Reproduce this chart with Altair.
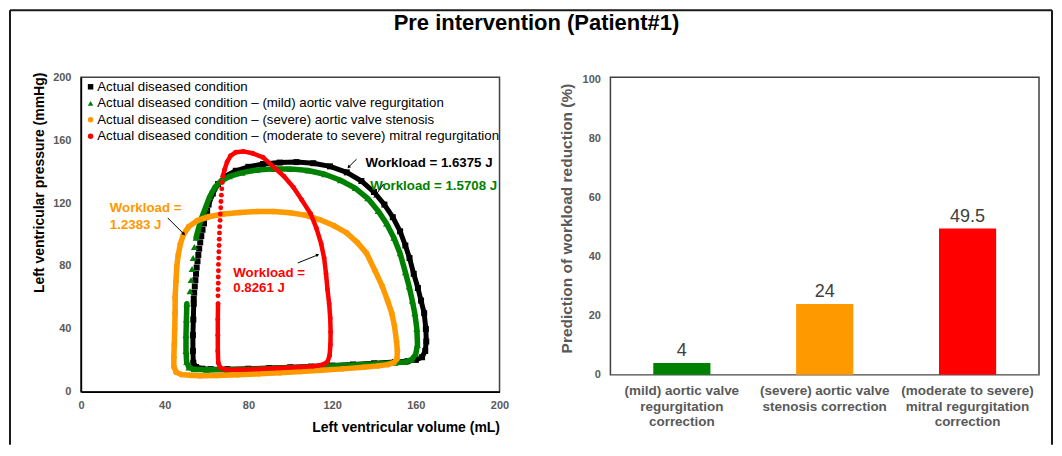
import math
import altair as alt
import pandas as pd

FONT = "Liberation Sans"
TITLE = "Pre intervention (Patient#1)"

# ---------------- Left panel: PV loops ----------------
series_names = [
    "Actual diseased condition",
    "Actual diseased condition \u2013 (mild) aortic valve regurgitation",
    "Actual diseased condition \u2013 (severe) aortic valve stenosis",
    "Actual diseased condition \u2013 (moderate to severe) mitral regurgitation",
]
series_colors = ["#000000", "#008000", "#FF9900", "#FF0000"]
series_shapes = ["square", "triangle-up", "circle", "circle"]

# Actual diseased condition (black)
black_band_v = [53.9, 53.7, 53.5, 53.5, 53.7, 55.0, 58.0, 62.0, 70.0, 80.0, 90.0, 100.0, 110.0, 120.0, 130.0,
                140.0, 150.0, 156.0, 160.0, 163.0, 164.5, 165.0, 164.8, 164.0, 162.5, 161.0, 159.0, 157.0, 155.0,
                152.5, 149.0, 145.0, 140.0, 134.0, 127.0, 119.0, 111.0, 103.0, 95.0, 87.0, 80.0, 74.0, 69.0,
                65.5, 63.0, 61.0]
black_band_p = [56.0, 46.0, 36.0, 26.0, 18.5, 15.8, 14.7, 14.4, 14.4, 14.7, 15.1, 15.6, 16.1, 16.7, 17.4,
                18.1, 18.9, 19.5, 20.3, 22.0, 26.0, 32.0, 40.0, 50.0, 58.0, 66.0, 75.0, 85.0, 93.0,
                102.0, 111.0, 119.0, 127.0, 134.0, 139.5, 143.3, 145.3, 146.0, 145.7, 144.8, 143.0, 140.5, 137.0,
                132.0, 126.0, 119.0]
black_sparse_v = [60.3, 59.5, 58.8, 58.1, 57.5, 57.0, 56.5, 56.1, 55.7, 55.3, 55.0, 54.7, 54.4, 54.1, 53.9]
black_sparse_p = [115, 111, 107, 103, 99, 95, 91, 87, 83, 79, 75, 71, 67, 63, 59]

# (mild) aortic valve regurgitation (green)
green_band_v = [50.6, 50.4, 50.2, 50.2, 50.5, 51.6, 54.0, 60.0, 70.0, 80.0, 90.0, 100.0, 110.0, 120.0, 130.0,
                140.0, 150.0, 155.0, 158.0, 160.0, 160.8, 160.5, 159.5, 158.3, 156.8, 155.0, 152.5, 149.5, 146.0,
                142.0, 137.0, 131.0, 124.0, 116.5, 108.5, 100.0, 92.0, 84.0, 77.0, 71.0, 67.0, 64.0, 61.5,
                59.5, 57.5, 56.0, 55.0]
green_band_p = [56.0, 46.0, 36.0, 26.0, 19.0, 15.5, 14.3, 14.0, 14.1, 14.4, 14.8, 15.3, 15.8, 16.4, 17.0,
                17.7, 18.5, 19.0, 20.5, 24.0, 30.0, 40.0, 50.0, 58.0, 67.0, 76.0, 88.0, 98.0, 107.0,
                115.0, 123.0, 129.5, 134.5, 138.3, 140.7, 141.7, 141.7, 141.0, 139.3, 137.0, 134.0, 130.0, 124.0,
                117.0, 110.0, 103.0, 98.0]
green_sparse_v = [54.2, 53.6, 53.1, 52.6, 52.1]
green_sparse_p = [92, 85, 78, 71, 64]

# (severe) aortic valve stenosis (orange)
orange_band_v = [45.0, 44.8, 44.6, 44.4, 44.4, 45.5, 48.0, 52.0, 57.0, 65.0, 75.0, 85.0, 95.0, 105.0, 115.0,
                 125.0, 135.0, 142.0, 146.5, 149.5, 151.0, 151.2, 150.8, 149.8, 148.5, 146.5, 144.0, 140.5, 136.5,
                 132.0, 127.0, 121.0, 114.0, 107.0, 100.0, 92.0, 84.0, 76.0, 68.0, 61.0, 55.5, 51.5, 49.0,
                 47.5, 46.5, 45.8, 45.4, 45.0, 45.0]
orange_band_p = [50.0, 40.0, 30.0, 22.0, 16.0, 12.5, 11.0, 10.5, 10.3, 10.4, 10.9, 11.5, 12.2, 12.9, 13.7,
                 14.6, 15.6, 16.5, 17.3, 18.5, 21.0, 26.0, 32.0, 42.0, 50.0, 58.0, 67.0, 77.0, 88.0,
                 95.0, 101.0, 105.5, 109.5, 112.3, 113.8, 114.6, 114.6, 114.0, 113.0, 111.3, 108.8, 105.0, 100.0,
                 94.0, 87.0, 80.0, 70.0, 60.0, 50.0]
orange_sparse_v = []
orange_sparse_p = []

# (moderate to severe) mitral regurgitation (red)
red_band_v = [65.5, 65.4, 65.4, 65.4, 65.6, 66.6, 69.0, 75.0, 85.0, 95.0, 105.0, 111.0, 115.5, 117.8, 118.8,
              119.2, 119.3, 119.1, 118.6, 117.8, 117.1, 116.2, 114.8, 112.5, 109.8, 105.5, 101.5, 97.0, 92.0,
              87.0, 82.0, 77.5, 74.0, 71.5, 69.8, 68.6, 67.8]
red_band_p = [56.0, 46.0, 36.0, 26.0, 18.5, 15.3, 14.2, 14.1, 14.5, 15.1, 15.8, 16.3, 17.2, 19.0, 23.0,
              30.0, 38.0, 47.0, 56.0, 65.0, 75.0, 85.0, 94.0, 104.0, 113.0, 122.0, 130.0, 137.0, 143.0,
              149.0, 151.6, 152.8, 152.3, 150.0, 146.0, 141.0, 137.0]
red_sparse_v = [67.5, 67.3, 67.1, 66.9, 66.8, 66.6, 66.5, 66.3, 66.2, 66.1, 66.0, 65.9, 65.8, 65.7, 65.7,
                65.6, 65.6, 65.5, 65.5]
red_sparse_p = [133, 129, 125, 121, 117, 113, 109, 105, 101, 97, 93, 89, 85, 81, 77, 73, 69, 65, 61]

loops = [
    (black_band_v, black_band_p, black_sparse_v, black_sparse_p),
    (green_band_v, green_band_p, green_sparse_v, green_sparse_p),
    (orange_band_v, orange_band_p, orange_sparse_v, orange_sparse_p),
    (red_band_v, red_band_p, red_sparse_v, red_sparse_p),
]

# annotations
note_text = ["Workload = 1.6375 J", "Workload = 1.5708 J", "Workload =", "1.2383 J", "Workload =", "0.8261 J"]
note_series = [0, 1, 2, 2, 3, 3]
note_v = [136.0, 138.2, 13.8, 13.8, 72.8, 72.8]
note_p = [145.2, 131.0, 116.6, 106.2, 75.6, 65.8]

arrow_v1 = [131.7, 144.6, 41.5, 103.6]
arrow_p1 = [147.9, 132.1, 110.5, 81.9]
arrow_v2 = [127.9, 139.9, 49.2, 113.1]
arrow_p2 = [142.9, 123.2, 100.3, 87.0]
arrow_head = [True, False, True, True]

vol_ticks = [0, 40, 80, 120, 160, 200]
pres_ticks = [0, 40, 80, 120, 160, 200]

# ---------------- Right panel: bars ----------------
bar_cats = [
    "(mild) aortic valve\nregurgitation\ncorrection",
    "(severe) aortic valve\nstenosis correction",
    "(moderate to severe)\nmitral regurgitation\ncorrection",
]
bar_vals = [4, 24, 49.5]
bar_colors = ["#008000", "#FF9900", "#FF0000"]
pct_ticks = [0, 20, 40, 60, 80, 100]

# ---------------- Layout constants ----------------
LW, LH = 419, 315
RW, RH = 429, 298
GRAY = "#595959"

x_enc = alt.X("V:Q", scale=alt.Scale(domain=[0, 200], nice=False),
              title="Left ventricular volume (mL)",
              axis=alt.Axis(values=vol_ticks, grid=False, ticks=False, domainColor="#000000", domainWidth=1.5,
                            labelFont=FONT, labelFontSize=11, labelFontWeight="bold", labelColor=GRAY,
                            labelPadding=8, labelFlush=False, titleFont=FONT, titleFontSize=14,
                            titleFontWeight="bold", titleColor="#000000", titleAnchor="end", titlePadding=10))
y_enc = alt.Y("P:Q", scale=alt.Scale(domain=[0, 200], nice=False),
              title="Left ventricular pressure (mmHg)",
              axis=alt.Axis(values=pres_ticks, grid=False, ticks=False, domainColor="#000000", domainWidth=1.5,
                            labelFont=FONT, labelFontSize=11, labelFontWeight="bold", labelColor=GRAY,
                            labelPadding=10, labelFlush=False, titleFont=FONT, titleFontSize=14,
                            titleFontWeight="bold", titleColor="#000000", titleAnchor="end", titlePadding=6,
                            titleY=-5))

legend = alt.Legend(title=None, orient="top-left", offset=1, padding=2, symbolSize=30, labelFont=FONT,
                    labelFontSize=13.3, labelColor="#000000", labelLimit=600, rowPadding=2.5, labelOffset=0,
                    symbolStrokeWidth=0)
color_scale = alt.Scale(domain=series_names, range=series_colors)
shape_scale = alt.Scale(domain=series_names, range=series_shapes)

line_widths = [5, 5.5, 5.5, 4.5]
marker_sizes = [36, 48, 32, 24]

layers = []
for k, (bv, bp, sv, sp) in enumerate(loops):
    band = pd.DataFrame({"V": bv, "P": bp, "i": list(range(len(bv))), "loop": series_names[k]})
    sparse = pd.DataFrame({"V": sv, "P": sp, "i": list(range(len(bv), len(bv) + len(sv))),
                           "loop": series_names[k]})
    pts = pd.concat([band, sparse], ignore_index=True)
    layers.append(
        alt.Chart(band).mark_line(color=series_colors[k], strokeWidth=line_widths[k], strokeJoin="round",
                                  strokeCap="round").encode(x=x_enc, y=y_enc, order=alt.Order("i:Q"))
    )
    layers.append(
        alt.Chart(pts).mark_point(filled=True, opacity=1, size=marker_sizes[k]).encode(
            x=x_enc, y=y_enc,
            color=alt.Color("loop:N", scale=color_scale, legend=legend),
            shape=alt.Shape("loop:N", scale=shape_scale, legend=legend),
        )
    )

notes_df = pd.DataFrame({"V": note_v, "P": note_p, "t": note_text,
                         "c": [series_colors[s] for s in note_series]})
layers.append(
    alt.Chart(notes_df).mark_text(align="left", baseline="middle", font=FONT, fontSize=13.3, fontWeight="bold")
    .encode(x=x_enc, y=y_enc, text="t:N", color=alt.Color("c:N", scale=None))
)

sx, sy = LW / 200.0, LH / 200.0
angles = []
for a, b, c, d in zip(arrow_v1, arrow_p1, arrow_v2, arrow_p2):
    dx = (c - a) * sx
    dy = -(d - b) * sy
    angles.append(math.degrees(math.atan2(dx, -dy)) % 360)
arrows_df = pd.DataFrame({"V": arrow_v1, "P": arrow_p1, "V2": arrow_v2, "P2": arrow_p2,
                          "ang": angles, "head": arrow_head})
layers.append(
    alt.Chart(arrows_df).mark_rule(color="#000000", strokeWidth=1).encode(
        x=x_enc, y=y_enc, x2="V2:Q", y2="P2:Q")
)
layers.append(
    alt.Chart(arrows_df[arrows_df["head"]]).mark_point(shape="triangle-up", filled=True, color="#000000",
                                                       size=14, opacity=1)
    .encode(x=alt.X("V2:Q", scale=alt.Scale(domain=[0, 200], nice=False)),
            y=alt.Y("P2:Q", scale=alt.Scale(domain=[0, 200], nice=False)),
            angle=alt.Angle("ang:Q", scale=None))
)

dummy = pd.DataFrame({"k": [0]})
BL, BR, BT, BB = -71, 972, -67, 368
frame_color = "#1a1a1a"
layers.append(alt.Chart(dummy).mark_rule(color=frame_color, strokeWidth=2).encode(
    x=alt.value(BL), y=alt.value(BT), y2=alt.value(BB)))
layers.append(alt.Chart(dummy).mark_rule(color=frame_color, strokeWidth=2).encode(
    x=alt.value(BR), y=alt.value(BT), y2=alt.value(BB)))
layers.append(alt.Chart(dummy).mark_rule(color=frame_color, strokeWidth=2).encode(
    x=alt.value(BL), x2=alt.value(BR), y=alt.value(BT)))
layers.append(alt.Chart(pd.DataFrame({"t": [TITLE]})).mark_text(
    font=FONT, fontSize=22, fontWeight="bold", color="#000000", align="center", baseline="middle").encode(
    x=alt.value(456), y=alt.value(-54), text="t:N"))

left = alt.layer(*layers).properties(width=LW, height=LH)

# right panel
bar_df = pd.DataFrame({"cat": bar_cats, "val": bar_vals, "col": bar_colors})
bx = alt.X("cat:N", sort=bar_cats, title=None,
           scale=alt.Scale(paddingInner=0.6, paddingOuter=0.3),
           axis=alt.Axis(labelExpr="split(datum.label, '\\n')", labelAngle=0, labelFont=FONT,
                         labelFontSize=13.5, labelFontWeight="bold", labelColor=GRAY, labelLineHeight=15.5,
                         labelPadding=9, ticks=False, domainColor="#A6A6A6", domainWidth=1.5, labelLimit=300,
                         labelBaseline="top"))
by = alt.Y("val:Q", scale=alt.Scale(domain=[0, 100.7], nice=False),
           title="Prediction of workload reduction (%)",
           axis=alt.Axis(values=pct_ticks, grid=False, ticks=False, domain=False, labelFont=FONT,
                         labelFontSize=11, labelFontWeight="bold", labelColor=GRAY, labelPadding=10,
                         labelFlush=False, titleFont=FONT, titleFontSize=15.5, titleFontWeight="bold",
                         titleColor=GRAY, titlePadding=8, titleY=141))
bars = alt.Chart(bar_df).mark_bar().encode(x=bx, y=by, color=alt.Color("col:N", scale=None))
vals = alt.Chart(bar_df).mark_text(dy=-7, baseline="alphabetic", font=FONT, fontSize=18,
                                   color="#404040").encode(x=bx, y=by, text=alt.Text("val:Q"))
right = alt.layer(bars, vals).properties(width=RW, height=RH)

chart = alt.hconcat(left, right, spacing=111, bounds="flush", padding=0).configure(
    font=FONT).configure_view(stroke="#404040", strokeWidth=1.5)

chart.save("out.html", embed_options={"renderer": "svg", "actions": False})
